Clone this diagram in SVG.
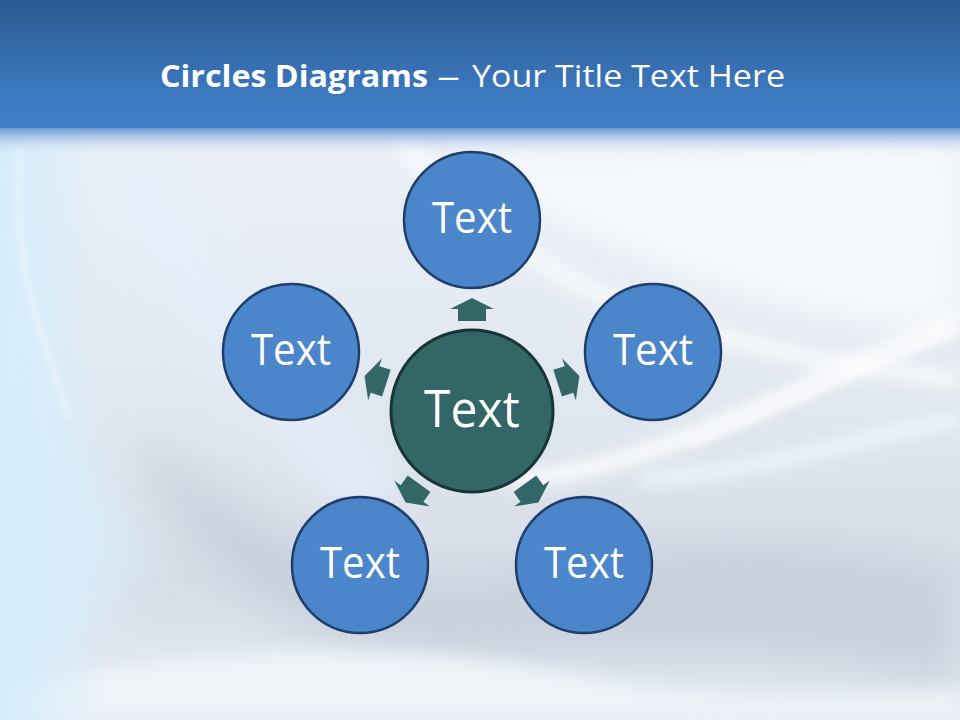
<svg xmlns="http://www.w3.org/2000/svg" width="960" height="720" viewBox="0 0 960 720">
<defs>
<linearGradient id="hdr" x1="0" y1="0" x2="0" y2="1">
<stop offset="0" stop-color="#2c5a92"/>
<stop offset="0.85" stop-color="#3e7dc5"/>
<stop offset="1" stop-color="#3f7fc7"/>
</linearGradient>
<linearGradient id="fade" x1="0" y1="0" x2="0" y2="1">
<stop offset="0" stop-color="#4a84c8" stop-opacity="0.9"/>
<stop offset="1" stop-color="#e6edf6" stop-opacity="0"/>
</linearGradient>
<linearGradient id="body" x1="0" y1="0" x2="0" y2="1">
<stop offset="0" stop-color="#f0f4fa"/>
<stop offset="0.5" stop-color="#e3e9f1"/>
<stop offset="0.8" stop-color="#d7dde7"/>
<stop offset="1" stop-color="#e6ecf4"/>
</linearGradient>
<linearGradient id="leftglow" x1="0" y1="0" x2="1" y2="0">
<stop offset="0" stop-color="#d2ecfc" stop-opacity="0.9"/>
<stop offset="1" stop-color="#d2ecfc" stop-opacity="0"/>
</linearGradient>
<filter id="blur20" x="-20%" y="-20%" width="140%" height="140%"><feGaussianBlur stdDeviation="20"/></filter>
<filter id="blur8" x="-20%" y="-20%" width="140%" height="140%"><feGaussianBlur stdDeviation="8"/></filter>
<filter id="blur3" x="-20%" y="-20%" width="140%" height="140%"><feGaussianBlur stdDeviation="3"/></filter>
<style>
.outer{fill:#4a86c9;stroke:#1f3e6c;stroke-width:2.5}
.center{fill:#336666;stroke:#183434;stroke-width:3}
.lbl{font-family:"Open Sans","Noto Sans",sans-serif;fill:#ffffff;text-anchor:middle}
.arrow{fill:#336666}
.title{font-family:"Open Sans","Noto Sans",sans-serif;fill:#ffffff;font-size:31px}
</style>
</defs>
<g id="background">
<rect x="0" y="0" width="960" height="720" fill="url(#body)"/>
<path d="M420,140 C560,170 700,150 960,140 L960,330 C800,330 640,260 520,200 Z" fill="#f6f9fc" filter="url(#blur20)"/>
<path d="M140,440 C260,530 380,600 520,570 C640,540 760,520 960,570 L960,690 C760,640 560,670 380,650 C260,630 180,560 140,440 Z" fill="#c9d1dd" filter="url(#blur20)"/>
<path d="M0,690 C200,640 420,640 600,680 C720,705 860,700 960,690 L960,720 L0,720 Z" fill="#eef3f8" filter="url(#blur8)"/>
<path d="M960,320 C860,360 760,410 680,440 C610,465 560,478 510,480" fill="none" stroke="#ffffff" stroke-width="14" filter="url(#blur8)"/>
<path d="M960,330 C860,370 770,415 690,445" fill="none" stroke="#ffffff" stroke-width="3" filter="url(#blur3)"/>
<path d="M960,420 C880,430 780,470 640,480" fill="none" stroke="#f4fbff" stroke-width="10" filter="url(#blur8)"/>
<path d="M400,140 C480,230 560,290 700,330 C800,360 880,370 960,380" fill="none" stroke="#ffffff" stroke-width="20" opacity="0.6" filter="url(#blur8)"/>
<rect x="0" y="130" width="110" height="590" fill="url(#leftglow)"/>
<path d="M30,140 C20,300 60,430 150,560 C120,600 60,660 0,700 L0,140 Z" fill="#d8eefc" opacity="0.7" filter="url(#blur20)"/>
<path d="M120,160 C200,300 300,420 380,500" fill="none" stroke="#e4eefb" stroke-width="60" opacity="0.8" filter="url(#blur20)"/>
<path d="M20,150 C10,260 40,330 70,420" fill="none" stroke="#ffffff" stroke-width="4" opacity="0.6" filter="url(#blur3)"/>
<rect x="0" y="126" width="960" height="30" fill="url(#fade)"/>
<rect x="0" y="0" width="960" height="128" fill="url(#hdr)"/>
</g>
<g id="title">
<text class="title" x="160" y="87" font-weight="bold" textLength="268" lengthAdjust="spacingAndGlyphs">Circles Diagrams</text>
<text class="title" x="437" y="87" textLength="23" lengthAdjust="spacingAndGlyphs">–</text>
<text class="title" x="472" y="87" textLength="313" lengthAdjust="spacingAndGlyphs">Your Title Text Here</text>
</g>
<g id="connectors">
<polygon class="arrow" points="0,-113 22,-102 14,-102 14,-90 -14,-90 -14,-102 -22,-102" transform="translate(472,411)"/>
<polygon class="arrow" points="0,-113 22,-102 14,-102 14,-90 -14,-90 -14,-102 -22,-102" transform="translate(472,411) rotate(72)"/>
<polygon class="arrow" points="0,-113 22,-102 14,-102 14,-90 -14,-90 -14,-102 -22,-102" transform="translate(472,411) rotate(144)"/>
<polygon class="arrow" points="0,-113 22,-102 14,-102 14,-90 -14,-90 -14,-102 -22,-102" transform="translate(472,411) rotate(216)"/>
<polygon class="arrow" points="0,-113 22,-102 14,-102 14,-90 -14,-90 -14,-102 -22,-102" transform="translate(472,411) rotate(288)"/>
</g>
<g id="node-center">
<circle class="center" cx="472" cy="411" r="81"/>
<text class="lbl" x="472" y="427" font-size="52" textLength="96" lengthAdjust="spacingAndGlyphs">Text</text>
</g>
<g id="node-top">
<circle class="outer" cx="472" cy="220" r="68"/>
<text class="lbl" x="472" y="233" font-size="43" textLength="80" lengthAdjust="spacingAndGlyphs">Text</text>
</g>
<g id="node-right">
<circle class="outer" cx="653" cy="352" r="68"/>
<text class="lbl" x="653" y="365" font-size="43" textLength="80" lengthAdjust="spacingAndGlyphs">Text</text>
</g>
<g id="node-bottom-right">
<circle class="outer" cx="584" cy="565" r="68"/>
<text class="lbl" x="584" y="578" font-size="43" textLength="80" lengthAdjust="spacingAndGlyphs">Text</text>
</g>
<g id="node-bottom-left">
<circle class="outer" cx="360" cy="565" r="68"/>
<text class="lbl" x="360" y="578" font-size="43" textLength="80" lengthAdjust="spacingAndGlyphs">Text</text>
</g>
<g id="node-left">
<circle class="outer" cx="291" cy="352" r="68"/>
<text class="lbl" x="291" y="365" font-size="43" textLength="80" lengthAdjust="spacingAndGlyphs">Text</text>
</g>
</svg>
